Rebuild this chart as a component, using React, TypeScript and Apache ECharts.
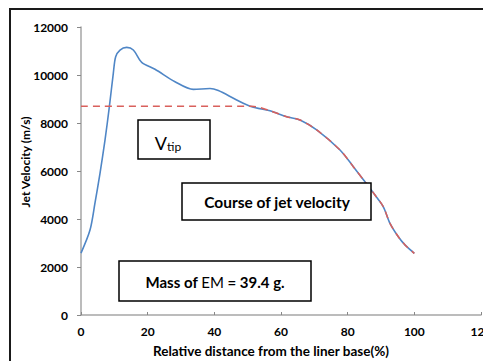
import React, { useEffect, useRef } from "react";
import * as echarts from "echarts";

const distance = [0, 2.7, 4.2, 5.7, 7.2, 8.5, 9.7, 10.4, 11.7, 13.7, 15.7, 18.2, 22.2, 28.2, 33.7, 38.7, 41.2, 46.7, 51.2, 56.7, 61.7, 65.7, 70.7, 77.7, 81.7, 85.2, 88.2, 90.7, 92.7, 95.2, 97.2, 100];
const velocity = [2580, 3540, 4670, 5900, 7290, 8670, 10080, 10760, 11040, 11150, 11040, 10530, 10240, 9720, 9400, 9440, 9350, 8960, 8680, 8510, 8260, 8125, 7710, 6875, 6180, 5550, 5000, 4510, 3820, 3260, 2920, 2570];
const vTip = 8700;
const tipJoin = 51.2;
const yTicks = [0, 2000, 4000, 6000, 8000, 10000, 12000];
const xTicks = [0, 20, 40, 60, 80, 100, 120];

const FONT = "Lato";

export default function App() {
  const ref = useRef<HTMLDivElement>(null);
  useEffect(() => {
    if (!ref.current) return;
    const chart = echarts.init(ref.current, undefined, { renderer: "svg" });
    const curve = distance.map((d, i) => [d, velocity[i]]);
    const tipLine: number[][] = [[0, vTip], [tipJoin, vTip]];
    distance.forEach((d, i) => {
      if (d > tipJoin) tipLine.push([d, velocity[i]]);
    });
    chart.setOption({
      animation: false,
      textStyle: { fontFamily: FONT },
      grid: { left: 81, right: 2, top: 27, bottom: 46, containLabel: false, outerBoundsMode: "none" },
      xAxis: {
        type: "value",
        min: xTicks[0],
        max: xTicks[xTicks.length - 1],
        interval: 20,
        name: "Relative distance from the liner base(%)",
        nameLocation: "middle",
        nameGap: 29,
        nameMoveOverlap: false,
        nameTextStyle: { fontFamily: FONT, fontWeight: "bold", fontSize: 13.5, color: "#000", padding: [0, 20, 0, 0] },
        axisLine: { show: true, lineStyle: { color: "#a6a6a6", width: 1.5 } },
        axisTick: { show: true, inside: true, length: 3, lineStyle: { color: "#888" } },
        axisLabel: { margin: 10, fontFamily: FONT, fontWeight: "bold", fontSize: 12, color: "#000", formatter: (v: number) => String(v) },
        splitLine: { show: false },
      },
      yAxis: {
        type: "value",
        min: yTicks[0],
        max: yTicks[yTicks.length - 1],
        interval: 2000,
        name: "Jet Velocity (m/s)",
        nameLocation: "middle",
        nameGap: 50,
        nameMoveOverlap: false,
        nameTextStyle: { fontFamily: FONT, fontWeight: "bold", fontSize: 12, color: "#000", padding: [0, 0, 0, 18] },
        axisLine: { show: true, lineStyle: { color: "#a6a6a6", width: 1.5 } },
        axisTick: { show: true, inside: false, length: 4, lineStyle: { color: "#888" } },
        axisLabel: { margin: 13, fontFamily: FONT, fontWeight: "bold", fontSize: 12, color: "#000", formatter: (v: number) => String(v) },
        splitLine: { show: false },
      },
      series: [
        {
          name: "Jet velocity",
          type: "line",
          data: curve,
          smooth: 0.3,
          showSymbol: false,
          lineStyle: { color: "#4f86c6", width: 1.6 },
          z: 2,
        },
        {
          name: "V tip",
          type: "line",
          data: tipLine,
          smooth: 0.3,
          showSymbol: false,
          lineStyle: { color: "#d9605c", width: 1.5, type: [7, 5] },
          z: 3,
        },
      ],
      graphic: [
        {
          type: "rect",
          shape: { x: 10, y: 9, width: 600, height: 500 },
          style: { fill: "none", stroke: "#1a1a1a", lineWidth: 2 },
          z: 1,
        },
        {
          type: "rect",
          shape: { x: 138, y: 120, width: 72, height: 39 },
          style: { fill: "#fff", stroke: "#000", lineWidth: 1.5 },
          z: 10,
        },
        {
          type: "text",
          x: 168,
          y: 142,
          z: 11,
          style: {
            text: "{v|V}{s|tip}",
            align: "center",
            verticalAlign: "middle",
            rich: {
              v: { fontFamily: FONT, fontSize: 18, color: "#000", verticalAlign: "bottom", lineHeight: 20 },
              s: { fontFamily: FONT, fontSize: 12, color: "#000", verticalAlign: "bottom", lineHeight: 18 },
            },
          },
        },
        {
          type: "rect",
          shape: { x: 182, y: 183, width: 189, height: 37 },
          style: { fill: "#fff", stroke: "#000", lineWidth: 1.5 },
          z: 10,
        },
        {
          type: "text",
          x: 277,
          y: 202,
          z: 11,
          style: {
            text: "Course of jet velocity",
            align: "center",
            verticalAlign: "middle",
            fontFamily: FONT,
            fontWeight: "bold",
            fontSize: 15.5,
            fill: "#000",
          },
        },
        {
          type: "rect",
          shape: { x: 119, y: 261, width: 192, height: 40 },
          style: { fill: "#fff", stroke: "#000", lineWidth: 1.5 },
          z: 10,
        },
        {
          type: "text",
          x: 215,
          y: 282,
          z: 11,
          style: {
            text: "{b|Mass of }{r|EM}{b| = 39.4 g.}",
            align: "center",
            verticalAlign: "middle",
            rich: {
              b: { fontFamily: FONT, fontWeight: "bold", fontSize: 15, color: "#000" },
              r: { fontFamily: FONT, fontSize: 15, color: "#000" },
            },
          },
        },
      ],
    });
    return () => chart.dispose();
  }, []);
  return (
    <div
      ref={ref}
      style={{ position: "fixed", left: 0, top: 0, width: 483, height: 361, background: "#fff" }}
    />
  );
}
